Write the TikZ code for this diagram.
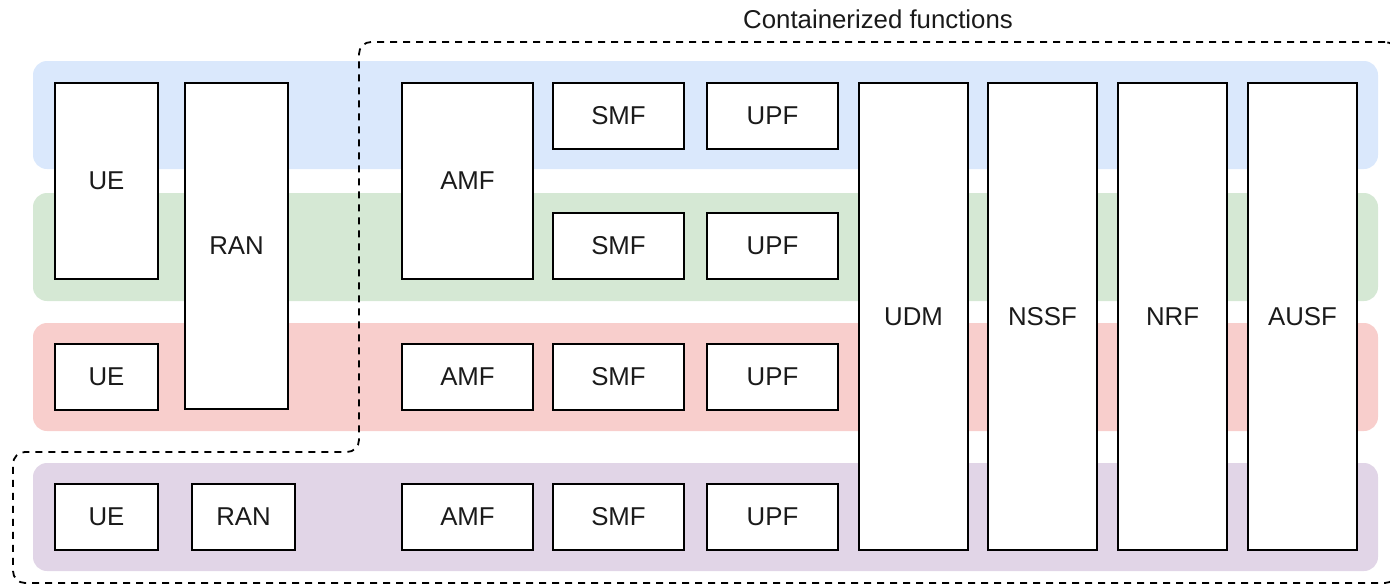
\documentclass[tikz,border=0pt]{standalone}
\usepackage{fontspec}
\setmainfont{Liberation Sans}
\definecolor{bandblue}{HTML}{DAE8FC}
\definecolor{bandgreen}{HTML}{D5E8D4}
\definecolor{bandred}{HTML}{F8CECC}
\definecolor{bandpurple}{HTML}{E1D5E7}
\definecolor{inkgray}{HTML}{1A1A1A}
\begin{document}
\begin{tikzpicture}[x=1pt,y=-1pt,
  every node/.style={inner sep=0pt,outer sep=0pt,font=\fontsize{25.8}{30}\selectfont,text=inkgray},
  band/.style={rectangle,rounded corners=14pt,draw=none,anchor=north west,minimum width=1345pt,minimum height=108pt},
  nfbox/.style={rectangle,draw=black,fill=white,line width=1.8pt,anchor=north west},
  wide/.style={minimum width=131pt},
  narrow/.style={minimum width=103pt},
  column/.style={minimum width=109pt,minimum height=467pt},
  low/.style={minimum height=66pt},
  tall/.style={minimum height=196pt},
  container/.style={draw=black,line width=1.8pt,dash pattern=on 7pt off 6pt,rounded corners=12pt}
]
\useasboundingbox (0,0) rectangle (1390,584);

% slice bands
\node[band,fill=bandblue]   (slice1) at (33,61)  {};
\node[band,fill=bandgreen]  (slice2) at (33,193) {};
\node[band,fill=bandred]    (slice3) at (33,323) {};
\node[band,fill=bandpurple] (slice4) at (33,463) {};

% container boundary
\draw[container] (1397,42) -- (359,42) -- (359,452) -- (13,452) -- (13,583) -- (1397,583) -- cycle;
\node (title) at (878,19) {Containerized functions};

% access side
\node[nfbox,narrow,tall] (ue1) at (55,83) {UE};
\node[nfbox,narrow,minimum height=326pt] (ran1) at (185,83) {RAN};
\node[nfbox,narrow,low] (ue3) at (55,344) {UE};
\node[nfbox,narrow,low] (ue4) at (55,484) {UE};
\node[nfbox,narrow,low] (ran4) at (192,484) {RAN};

% per-slice functions
\node[nfbox,wide,tall] (amf1) at (402,83) {AMF};
\node[nfbox,wide,low] (smf1) at (553,83) {SMF};
\node[nfbox,wide,low] (upf1) at (707,83) {UPF};
\node[nfbox,wide,low] (smf2) at (553,213) {SMF};
\node[nfbox,wide,low] (upf2) at (707,213) {UPF};
\node[nfbox,wide,low] (amf3) at (402,344) {AMF};
\node[nfbox,wide,low] (smf3) at (553,344) {SMF};
\node[nfbox,wide,low] (upf3) at (707,344) {UPF};
\node[nfbox,wide,low] (amf4) at (402,484) {AMF};
\node[nfbox,wide,low] (smf4) at (553,484) {SMF};
\node[nfbox,wide,low] (upf4) at (707,484) {UPF};

% shared functions
\node[nfbox,column] (udm)  at (859,83)  {UDM};
\node[nfbox,column] (nssf) at (988,83)  {NSSF};
\node[nfbox,column] (nrf)  at (1118,83) {NRF};
\node[nfbox,column] (ausf) at (1248,83) {AUSF};
\end{tikzpicture}
\end{document}
